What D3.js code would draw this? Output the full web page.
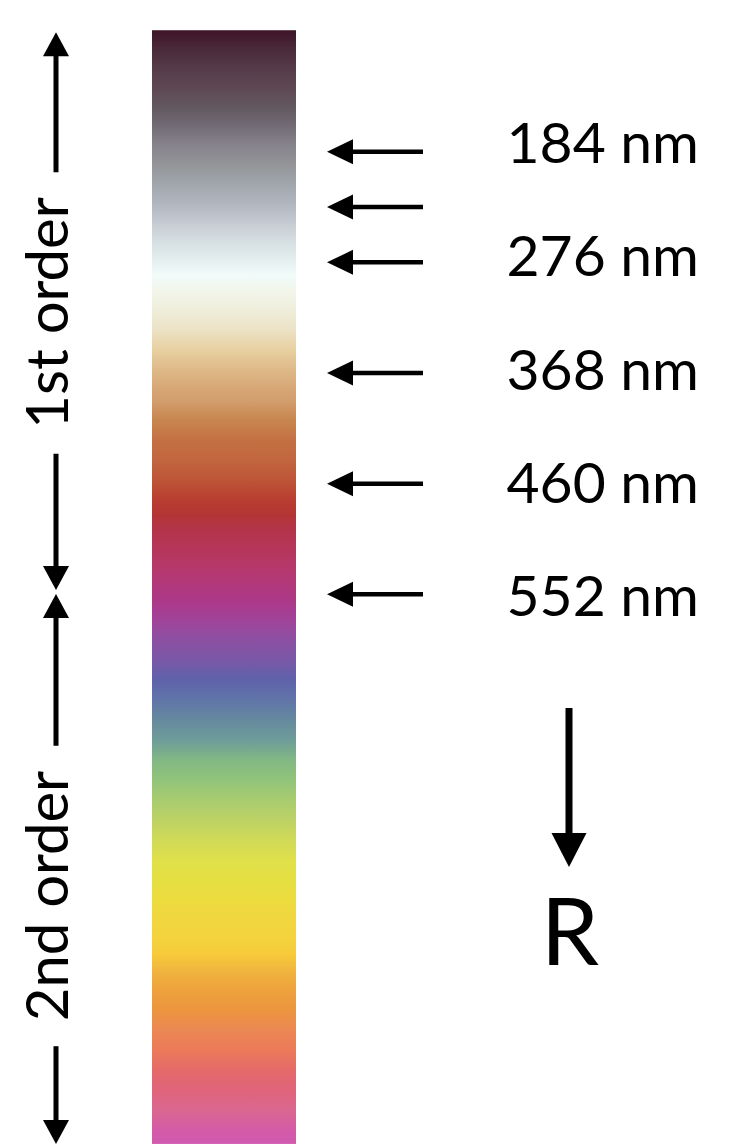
<!DOCTYPE html>
<html>
<head>
<meta charset="utf-8">
<script src="https://cdn.jsdelivr.net/npm/d3@7"></script>
<style>
  html, body { margin: 0; padding: 0; background: #fff; }
  svg { display: block; }
  text { font-family: "Gill Sans", "Gill Sans MT", Lato, "Open Sans", sans-serif; fill: #000; }
</style>
</head>
<body>
<div id="chart-container"></div>
<script>
// retardation (nm) of each colour stop down the strip
var stopValues = [83, 99, 116, 133, 149, 166, 178, 195, 208, 224, 241, 257, 274, 287, 299,
    316, 332, 349, 366, 382, 391, 407, 424, 440, 457, 474, 486, 499, 515, 532, 549,
    561, 574, 590, 607, 623, 640, 657, 673, 690, 707, 723, 740, 756, 773, 790, 806,
    823, 840, 852, 865, 881, 898, 914, 931, 948, 964, 981, 998, 1009];
var stopColors = ["#3f1428", "#4a2a3a", "#563c4a", "#5e4a55", "#645a62", "#76707a", "#86828c",
    "#949598", "#9ea3aa", "#adb3bb", "#c3c8d0", "#d4dde0", "#e4eeee", "#f0fbfa", "#f2f6ea",
    "#efeedb", "#ece2c5", "#e7d0a0", "#dfb888", "#d6a674", "#d29e6d", "#c8864f", "#c47043",
    "#c2663f", "#bd5536", "#b93d31", "#b43535", "#b3344a", "#b5365a", "#b5386e", "#b03880",
    "#aa3a8c", "#a0449a", "#8c50a2", "#7a58a8", "#5f62aa", "#6075a8", "#668a9e", "#6e9c9a",
    "#82b883", "#92c47a", "#a8cc70", "#bdd264", "#d0da58", "#dfe04a", "#e4df42", "#eddc3e",
    "#f1d640", "#f4d23e", "#f7c93a", "#f0b53e", "#eea23c", "#ec953f", "#eb8853", "#ec7a5a",
    "#e46a6a", "#e0647a", "#da6790", "#d45aa8", "#d05ab0"];

// pointers on the right
var arrowValues = [184, 230, 276, 368, 460, 552];
var labelValues = [184, 276, 368, 460, 552];
var labelTexts = ["184 nm", "276 nm", "368 nm", "460 nm", "552 nm"];

// interference orders on the left
var orderNames = ["1st order", "2nd order"];
var orderStart = [83, 550];
var orderEnd = [550, 1009];

var width = 739, height = 1144;

var svg = d3.select("#chart-container").append("svg")
    .attr("width", width)
    .attr("height", height);

// vertical retardation scale
var y = d3.scaleLinear().domain([184, 552]).range([151.7, 594.3]);
// labels sit on a slightly wider spacing than the pointers
var yLabel = d3.scaleLinear().domain([184, 552]).range([163, 616]);

var barX = 152, barW = 144;
var minV = d3.min(stopValues), maxV = d3.max(stopValues);

var defs = svg.append("defs");
var grad = defs.append("linearGradient")
    .attr("id", "strip")
    .attr("gradientUnits", "userSpaceOnUse")
    .attr("x1", 0).attr("x2", 0)
    .attr("y1", y(minV)).attr("y2", y(maxV));

grad.selectAll("stop")
    .data(stopValues)
    .enter()
    .append("stop")
    .attr("offset", function(d) { return (d - minV) / (maxV - minV); })
    .attr("stop-color", function(d, i) { return stopColors[i]; });

svg.append("rect")
    .attr("x", barX)
    .attr("y", y(minV))
    .attr("width", barW)
    .attr("height", y(maxV) - y(minV))
    .attr("fill", "url(#strip)");

// right-hand pointers
var tipX = 327, headLen = 26, headHalf = 12.5, tailX = 423;

svg.selectAll("line.ptr")
    .data(arrowValues)
    .enter()
    .append("line")
    .attr("class", "ptr")
    .attr("x1", tipX + headLen - 2)
    .attr("x2", tailX)
    .attr("y1", function(d) { return y(d); })
    .attr("y2", function(d) { return y(d); })
    .attr("stroke", "#000")
    .attr("stroke-width", 4.5);

svg.selectAll("path.ptr")
    .data(arrowValues)
    .enter()
    .append("path")
    .attr("class", "ptr")
    .attr("d", function(d) {
        var yy = y(d);
        return "M" + tipX + "," + yy + "L" + (tipX + headLen) + "," + (yy - headHalf) +
            "L" + (tipX + headLen) + "," + (yy + headHalf) + "Z";
    })
    .attr("fill", "#000");

svg.selectAll("text.lbl")
    .data(labelValues)
    .enter()
    .append("text")
    .attr("class", "lbl")
    .attr("x", 699)
    .attr("y", function(d) { return yLabel(d); })
    .attr("text-anchor", "end")
    .style("font-size", "57px")
    .text(function(d, i) { return labelTexts[i]; });

// left-hand order brackets
var ordX = 56, oHead = 24, oHalf = 13, gap = 25;

function vArrow(g, x, from, to, half, len, sw) {
    // shaft from 'from' to near 'to', head pointing at 'to'
    var dir = to > from ? 1 : -1;
    g.append("line")
        .attr("x1", x).attr("x2", x)
        .attr("y1", from).attr("y2", to - dir * (len - 2))
        .attr("stroke", "#000")
        .attr("stroke-width", sw);
    g.append("path")
        .attr("d", "M" + x + "," + to + "L" + (x - half) + "," + (to - dir * len) +
            "L" + (x + half) + "," + (to - dir * len) + "Z")
        .attr("fill", "#000");
}

var textCenters = [313, 896];

orderNames.forEach(function(name, i) {
    var g = svg.append("g");
    var top = y(orderStart[i]) + 2;
    var bottom = Math.min(y(orderEnd[i]) - (i === 0 ? 2 : 0), height);
    var cy = textCenters[i];
    var t = g.append("text")
        .attr("transform", "translate(" + (ordX + 12) + "," + cy + ") rotate(-90)")
        .attr("text-anchor", "middle")
        .style("font-size", "58px")
        .text(name);
    var len = t.node().getComputedTextLength();
    vArrow(g, ordX, cy - len / 2 - gap, top, oHalf, oHead, 5);
    vArrow(g, ordX, cy + len / 2 + gap, bottom, oHalf, oHead, 5);
});

// R direction arrow
var rX = 569;
vArrow(svg.append("g"), rX, 708, 867, 17.5, 34, 7);

svg.append("text")
    .attr("x", rX + 1)
    .attr("y", 965)
    .attr("text-anchor", "middle")
    .style("font-size", "93px")
    .text("R");
</script>
</body>
</html>
